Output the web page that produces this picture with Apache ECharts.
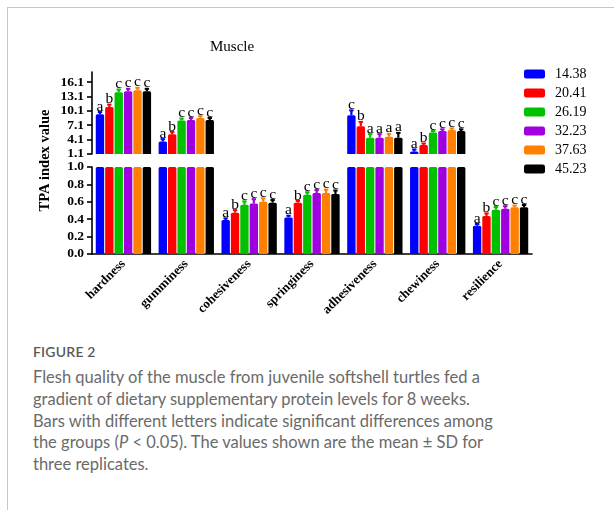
<!DOCTYPE html>
<html>
<head>
<meta charset="utf-8">
<script src="https://cdn.jsdelivr.net/npm/echarts@6/dist/echarts.min.js"></script>
<style>
  html, body { margin:0; padding:0; background:#fff; width:614px; height:510px; overflow:hidden; }
  #card { position:absolute; left:7px; top:7px; width:800px; height:700px; border:1px solid #c6c6c6; box-sizing:border-box; }
  #chart { position:absolute; left:0; top:0; width:614px; height:340px; }
  #cap { position:absolute; left:33px; top:342px; font-family:Lato, "Noto Sans", sans-serif; color:#6a6a6a; }
  #cap .fig { font-size:14px; line-height:20px; font-weight:600; color:#5a5a5a; letter-spacing:0.2px; }
  #cap .txt { margin-top:5px; font-size:16.5px; line-height:21.75px; white-space:nowrap; font-weight:400; }
</style>
</head>
<body>
<div id="card"></div>
<div id="chart"></div>
<div id="cap">
  <div class="fig">FIGURE 2</div>
  <div class="txt">Flesh quality of the muscle from juvenile softshell turtles fed a<br>gradient of dietary supplementary protein levels for 8 weeks.<br>Bars with different letters indicate significant differences among<br>the groups (<i>P</i> &lt; 0.05). The values shown are the mean ± SD for<br>three replicates.</div>
</div>
<script>
const categories = ['hardness','gumminess','cohesiveness','springiness','adhesiveness','chewiness','resilience'];
const groupNames = ['14.38','20.41','26.19','32.23','37.63','45.23'];
const barColors = ['#0000ff','#ff0000','#00c000','#a000e0','#ff8000','#000000'];

const mean_14_38 = [9.4, 3.7, 0.39, 0.42, 9.2, 1.6, 0.325];
const mean_20_41 = [10.9, 5.2, 0.475, 0.59, 6.9, 3.0, 0.437];
const mean_26_19 = [14.0, 8.1, 0.565, 0.68, 4.5, 5.6, 0.51];
const mean_32_23 = [14.2, 8.2, 0.58, 0.70, 4.5, 5.9, 0.52];
const mean_37_63 = [14.4, 8.6, 0.60, 0.70, 4.7, 6.1, 0.537];
const mean_45_23 = [14.2, 8.2, 0.59, 0.69, 4.5, 5.9, 0.537];

const sd_14_38 = [0.45, 0.5, 0.02, 0.02, 1.0, 0.45, 0.02];
const sd_20_41 = [0.5, 0.5, 0.03, 0.02, 0.9, 0.3, 0.03];
const sd_26_19 = [0.55, 0.4, 0.04, 0.03, 0.75, 0.3, 0.03];
const sd_32_23 = [0.5, 0.4, 0.05, 0.035, 0.75, 0.35, 0.03];
const sd_37_63 = [0.5, 0.4, 0.04, 0.04, 0.6, 0.35, 0.02];
const sd_45_23 = [0.5, 0.4, 0.03, 0.04, 1.0, 0.35, 0.026];

const letters_14_38 = ['a','a','a','a','c','a','a'];
const letters_20_41 = ['b','b','b','b','b','b','b'];
const letters_26_19 = ['c','c','c','c','a','c','c'];
const letters_32_23 = ['c','c','c','c','a','c','c'];
const letters_37_63 = ['c','c','c','c','a','c','c'];
const letters_45_23 = ['c','c','c','c','a','c','c'];

const topTicks = [1.1, 4.1, 7.1, 10.1, 13.1, 16.1];
const bottomTicks = [0.0, 0.2, 0.4, 0.6, 0.8, 1.0];

const means = [mean_14_38, mean_20_41, mean_26_19, mean_32_23, mean_37_63, mean_45_23];
const sds = [sd_14_38, sd_20_41, sd_26_19, sd_32_23, sd_37_63, sd_45_23];
const letters = [letters_14_38, letters_20_41, letters_26_19, letters_32_23, letters_37_63, letters_45_23];

const TOP_MIN = 1.1, TOP_MAX = 18.2, BOT_MAX = 1.0;
const CAT_GAP = 0.12, BAR_GAP = 0.12, N = groupNames.length;
const serif = '"Liberation Serif", "Times New Roman", serif';

function barOffset(i, band) {
  const gw = band * (1 - CAT_GAP);
  const bw = gw / (N + (N - 1) * BAR_GAP);
  return -gw / 2 + bw / 2 + i * bw * (1 + BAR_GAP);
}

const chart = echarts.init(document.getElementById('chart'), null, {renderer:'canvas'});

const series = [];
groupNames.forEach((name, i) => {
  series.push({
    type:'bar', name, xAxisIndex:0, yAxisIndex:0,
    data: means[i].map(v => v >= TOP_MIN ? v : '-'),
    itemStyle:{color:barColors[i], borderRadius:[1.5,1.5,0,0]},
    barGap: (BAR_GAP*100)+'%', barCategoryGap:(CAT_GAP*100)+'%',
    silent:true
  });
  series.push({
    type:'bar', name, xAxisIndex:1, yAxisIndex:1,
    data: means[i].slice(),
    itemStyle:{color:barColors[i], borderRadius:[1.5,1.5,0,0]},
    barGap: (BAR_GAP*100)+'%', barCategoryGap:(CAT_GAP*100)+'%',
    silent:true
  });
});
groupNames.forEach((name, i) => {
  [0, 1].forEach(g => {
    series.push({
      type:'custom', name, xAxisIndex:g, yAxisIndex:g, z:3, silent:true,
      data: means[i].map((m, c) => [c, m, sds[i][c]]).filter(d => g === 0 ? d[1] >= TOP_MIN : d[1] <= BOT_MAX),
      renderItem: (params, api) => {
        const c = api.value(0), m = api.value(1), s = api.value(2);
        const band = api.size([1, 0])[0];
        const off = barOffset(i, band);
        const p0 = api.coord([c, m]);
        const p1 = api.coord([c, m + s]);
        const x = p0[0] + off;
        return {type:'group', children:[
          {type:'line', shape:{x1:x, y1:p0[1], x2:x, y2:p1[1]}, style:{stroke:barColors[i], lineWidth:2.2}},
          {type:'line', shape:{x1:x-2.2, y1:p1[1], x2:x+2.2, y2:p1[1]}, style:{stroke:barColors[i], lineWidth:2}},
          {type:'text', x:x, y:p1[1] + 2.5, style:{text:letters[i][c], textAlign:'center', textVerticalAlign:'bottom', font:'15.5px ' + serif, fill:'#000'}}
        ]};
      }
    });
  });
});

const axisLineStyle = {color:'#000', width:1.6};

chart.setOption({
  animation:false,
  title:{text:'Muscle', left:210, top:40, padding:0, textStyle:{fontFamily:serif, fontSize:15, fontWeight:'normal', color:'#000'}},
  legend:{
    orient:'vertical', left:524, top:67, padding:0, itemWidth:21, itemHeight:9, itemGap:5,
    icon:'roundRect', data:groupNames,
    textStyle:{fontFamily:serif, fontSize:14, color:'#000', padding:[0,0,0,5]},
    selectedMode:false
  },
  grid:[
    {left:92, right:82, top:72, height:82},
    {left:92, right:82, top:167, height:87}
  ],
  xAxis:[
    {type:'category', gridIndex:0, data:categories, show:false},
    {type:'category', gridIndex:1, data:categories,
     axisLine:{lineStyle:axisLineStyle},
     axisTick:{alignWithLabel:true, length:5, lineStyle:{width:1.6, color:'#000'}},
     axisLabel:{rotate:45, interval:0, margin:8, fontFamily:serif, fontWeight:'bold', fontSize:13, color:'#000'}}
  ],
  yAxis:[
    {type:'value', gridIndex:0, min:TOP_MIN, max:TOP_MAX, splitLine:{show:false},
     axisLine:{show:true, lineStyle:axisLineStyle},
     axisTick:{show:true, length:5, lineStyle:{width:1.6, color:'#000'}, customValues:topTicks},
     axisLabel:{customValues:topTicks, margin:8, fontFamily:serif, fontWeight:'bold', fontSize:13.5, color:'#000', formatter:v => v.toFixed(1)}},
    {type:'value', gridIndex:1, min:0, max:BOT_MAX, interval:0.2, splitLine:{show:false},
     axisLine:{show:true, lineStyle:axisLineStyle},
     axisTick:{show:true, length:5, lineStyle:{width:1.6, color:'#000'}},
     axisLabel:{margin:8, fontFamily:serif, fontWeight:'bold', fontSize:13.5, color:'#000', formatter:v => v.toFixed(1)}}
  ],
  graphic:[
    {type:'text', x:45, y:160.5, rotation:Math.PI/2,
     style:{text:'TPA index value', textAlign:'center', textVerticalAlign:'middle', font:'bold 14.5px ' + serif, fill:'#000'}}
  ],
  series
});
</script>
</body>
</html>
